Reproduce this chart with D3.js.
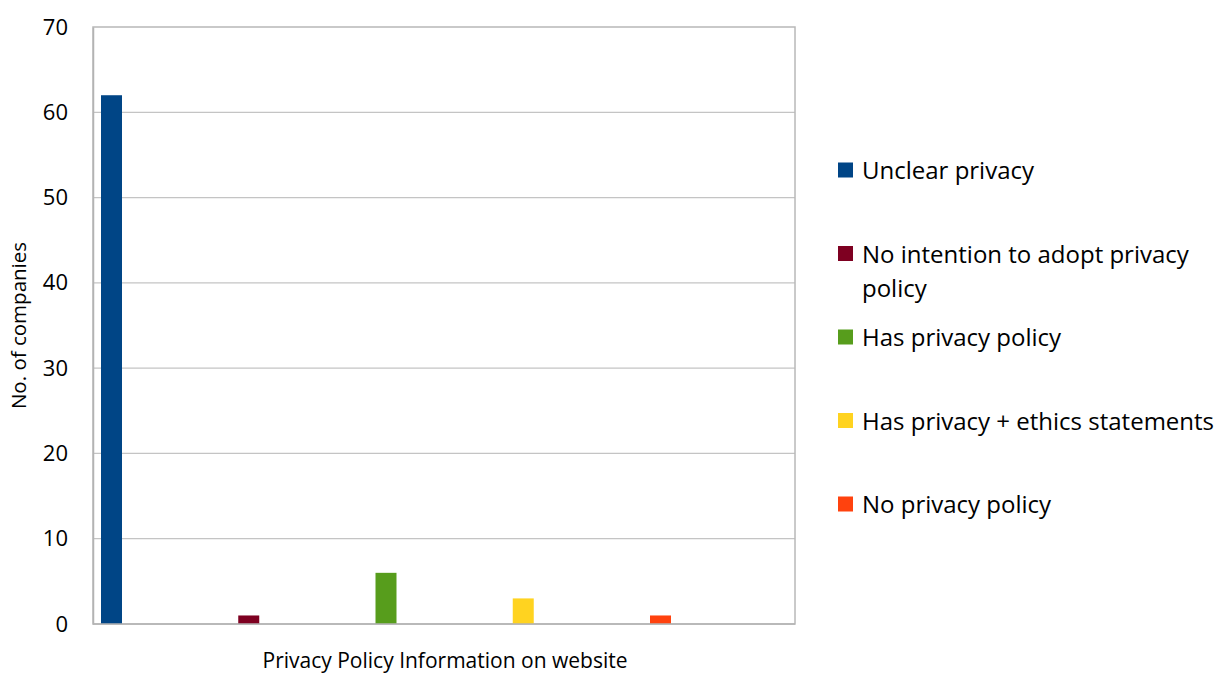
<!DOCTYPE html>
<html>
<head>
<meta charset="utf-8">
<script src="https://cdn.jsdelivr.net/npm/d3@7"></script>
<style>
  html, body { margin: 0; padding: 0; background: #fff; }
  svg { display: block; font-family: "Open Sans", sans-serif; }
</style>
</head>
<body>
<svg id="chart" width="1222" height="675"></svg>
<script>
// Survey results: privacy policy information found on company websites
const series = [
  "Unclear privacy",
  "No intention to adopt privacy policy",
  "Has privacy policy",
  "Has privacy + ethics statements",
  "No privacy policy"
];
const counts = [62, 1, 6, 3, 1];
const colors = ["#004586", "#7e0021", "#579d1c", "#ffd320", "#ff420e"];
const yTicks = [0, 10, 20, 30, 40, 50, 60, 70];
const categoryLabel = "Privacy Policy Information on website";
const yLabel = "No. of companies";

const svg = d3.select("#chart");
const plot = { left: 93, top: 27, right: 795, bottom: 624 };
const font = "'Open Sans', sans-serif";

const y = d3.scaleLinear().domain([0, 70]).range([plot.bottom, plot.top]);

// each series gets its own slot across the single category
const slot = 137.25;
const x = d3.scaleBand()
  .domain(series)
  .range([plot.left + 8, plot.left + 8 + series.length * slot])
  .padding(0);
const barWidth = x.bandwidth() * (21 / slot);

// horizontal gridlines
svg.append("g")
  .selectAll("line")
  .data(yTicks.filter(t => t > 0 && t < 70))
  .join("line")
  .attr("x1", plot.left).attr("x2", plot.right)
  .attr("y1", d => y(d)).attr("y2", d => y(d))
  .attr("stroke", "#c4c4c4").attr("stroke-width", 1.2);

// plot frame
svg.append("rect")
  .attr("x", plot.left).attr("y", plot.top)
  .attr("width", plot.right - plot.left).attr("height", plot.bottom - plot.top)
  .attr("fill", "none").attr("stroke", "#b8b8b8").attr("stroke-width", 1.5);

// y axis
const yAxis = d3.axisLeft(y).tickValues(yTicks).tickSize(0).tickPadding(25);
const gy = svg.append("g").attr("transform", `translate(${plot.left},0)`).call(yAxis);
gy.select(".domain").attr("stroke", "#b3b3b3").attr("stroke-width", 1.5);
gy.selectAll("text")
  .attr("font-family", font)
  .attr("font-size", 22).attr("fill", "#000");

// bars
svg.append("g")
  .selectAll("rect")
  .data(series.map((s, i) => ({ s, v: counts[i], c: colors[i] })))
  .join("rect")
  .attr("x", d => x(d.s))
  .attr("width", barWidth)
  .attr("y", d => y(d.v))
  .attr("height", d => y(0) - y(d.v))
  .attr("fill", d => d.c);

// bottom axis line
svg.append("line")
  .attr("x1", plot.left).attr("x2", plot.right)
  .attr("y1", plot.bottom).attr("y2", plot.bottom)
  .attr("stroke", "#b3b3b3").attr("stroke-width", 1.5);

// axis titles
svg.append("text")
  .attr("x", 445).attr("y", 668)
  .attr("text-anchor", "middle")
  .attr("font-size", 21).attr("fill", "#000")
  .text(categoryLabel);

svg.append("text")
  .attr("transform", `translate(26,${(plot.top + plot.bottom) / 2}) rotate(-90)`)
  .attr("text-anchor", "middle")
  .attr("font-size", 20.5).attr("fill", "#000")
  .text(yLabel);

// legend
const legend = svg.append("g");
const rowY = i => 170 + i * 83.5;
const maxTextWidth = 370;
series.forEach((s, i) => {
  const g = legend.append("g").attr("transform", `translate(838,${rowY(i)})`);
  g.append("rect").attr("x", 0).attr("y", -7.5).attr("width", 15).attr("height", 15)
    .attr("fill", colors[i]);
  const t = g.append("text").attr("x", 24).attr("y", 9)
    .attr("font-size", 24).attr("fill", "#000");
  // wrap long labels over several lines
  const words = s.split(" ");
  let line = [];
  let tspan = t.append("tspan").attr("x", 24).attr("dy", 0);
  words.forEach(w => {
    line.push(w);
    tspan.text(line.join(" "));
    if (tspan.node().getComputedTextLength() > maxTextWidth && line.length > 1) {
      line.pop();
      tspan.text(line.join(" "));
      line = [w];
      tspan = t.append("tspan").attr("x", 24).attr("dy", 34).text(w);
    }
  });
});
</script>
</body>
</html>
